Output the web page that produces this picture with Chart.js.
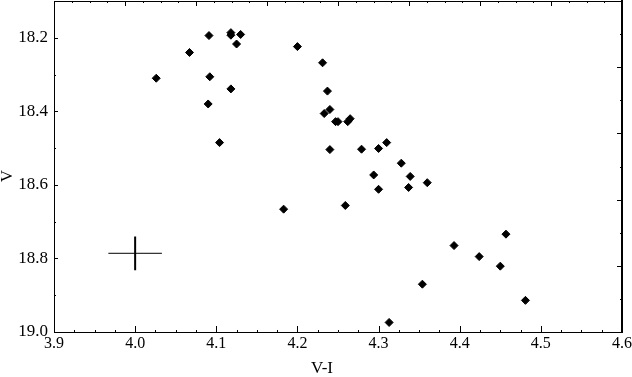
<!DOCTYPE html>
<html>
<head>
<meta charset="utf-8">
<script src="https://cdn.jsdelivr.net/npm/chart.js@4.4.0/dist/chart.umd.min.js"></script>
<style>
  html, body { margin: 0; padding: 0; background: #fff; }
  #wrap { width: 632px; height: 377px; }
</style>
</head>
<body>
<div id="wrap"><canvas id="cmd"></canvas></div>
<script>
// colour index V-I and magnitude V
const vi = [4.026, 4.067, 4.091, 4.092, 4.090, 4.104, 4.118, 4.118, 4.130, 4.125,
            4.118, 4.200, 4.183, 4.231, 4.237, 4.240, 4.233, 4.247, 4.250, 4.262,
            4.265, 4.240, 4.279, 4.300, 4.310, 4.328, 4.294, 4.339, 4.300, 4.337,
            4.360, 4.259, 4.313, 4.457, 4.393, 4.424, 4.450, 4.354, 4.481];
const vmag = [18.310, 18.240, 18.194, 18.306, 18.380, 18.485, 18.186, 18.193, 18.191, 18.217,
              18.339, 18.224, 18.666, 18.268, 18.345, 18.395, 18.406, 18.428, 18.428, 18.428,
              18.420, 18.504, 18.503, 18.501, 18.485, 18.541, 18.573, 18.577, 18.612, 18.607,
              18.594, 18.656, 18.974, 18.734, 18.765, 18.795, 18.821, 18.870, 18.914];

// typical error bar
const errX = 4.0, errY = 18.786;
const errDX = 0.033, errDY = 0.046;

const xTicks = [3.9, 4.0, 4.1, 4.2, 4.3, 4.4, 4.5, 4.6];
const yTicks = [18.2, 18.4, 18.6, 18.8, 19.0];

Chart.defaults.font.family = 'Liberation Serif';
Chart.defaults.color = '#000';

const pts = vi.map((x, i) => ({ x: x, y: vmag[i] }));

// inward tick marks on all four sides + axis titles
const frame = {
  id: 'frame',
  afterDraw(chart) {
    const ctx = chart.ctx, a = chart.chartArea, s = chart.scales;
    ctx.save();
    ctx.strokeStyle = '#000';
    ctx.lineWidth = 1;
    function line(x1, y1, x2, y2) {
      ctx.beginPath(); ctx.moveTo(x1, y1); ctx.lineTo(x2, y2); ctx.stroke();
    }
    let i, p;
    for (i = 0; i <= 28; i++) {
      p = Math.round(s.x.getPixelForValue(3.9 + i * 0.025)) + 0.5;
      line(p, a.bottom, p, a.bottom - (i % 4 == 0 ? 6 : 2));
    }
    for (i = 0; i <= 32; i++) {
      p = Math.round(s.x2.getPixelForValue(i * 0.25)) + 0.5;
      line(p, a.top, p, a.top + (i % 4 == 0 ? 5 : 2));
    }
    for (i = 0; i <= 9; i++) {
      p = Math.round(s.y.getPixelForValue(18.1 + i * 0.1)) + 0.5;
      line(a.left, p, a.left + (i % 2 == 1 ? 4 : 2), p);
    }
    for (i = 0; i <= 10; i++) {
      p = Math.round(s.y2.getPixelForValue(i * 0.5)) + 0.5;
      line(a.right, p, a.right - (i % 2 == 0 ? 5 : 2), p);
    }
    ctx.fillStyle = '#000';
    ctx.font = '17px "Liberation Serif"';
    ctx.textAlign = 'center';
    ctx.textBaseline = 'middle';
    ctx.fillText('V-I', 322, 369);
    ctx.translate(8, 176);
    ctx.rotate(-Math.PI / 2);
    ctx.fillText('V', 0, 0);
    ctx.restore();
  }
};

function noPad(s) {
  s.paddingTop = 0; s.paddingBottom = 0; s.paddingLeft = 0; s.paddingRight = 0;
}

new Chart(document.getElementById('cmd'), {
  type: 'scatter',
  data: {
    datasets: [
      {
        label: 'stars',
        data: pts,
        pointStyle: 'rectRot',
        pointRadius: 4,
        backgroundColor: '#000',
        borderColor: '#000',
        borderWidth: 1
      },
      {
        type: 'line',
        label: 'errx',
        data: [{ x: errX - errDX, y: errY }, { x: errX + errDX, y: errY }],
        borderColor: '#000',
        borderWidth: 1,
        pointRadius: 0,
        showLine: true
      },
      {
        type: 'line',
        label: 'erry',
        data: [{ x: errX, y: errY - errDY }, { x: errX, y: errY + errDY }],
        borderColor: '#000',
        borderWidth: 2,
        pointRadius: 0,
        showLine: true
      }
    ]
  },
  options: {
    responsive: true,
    maintainAspectRatio: false,
    animation: false,
    layout: { padding: 0, autoPadding: false },
    plugins: { legend: { display: false }, tooltip: { enabled: false } },
    scales: {
      x: {
        type: 'linear',
        position: 'bottom',
        min: 3.9,
        max: 4.6,
        afterBuildTicks: s => { s.ticks = xTicks.map(v => ({ value: v })); },
        afterFit: s => { s.height = 45; noPad(s); },
        ticks: {
          autoSkip: false,
          maxRotation: 0,
          padding: 2,
          font: { size: 16 },
          callback: v => v.toFixed(1)
        },
        grid: { display: false, drawTicks: false },
        border: { display: true, color: '#000', width: 1 }
      },
      x2: {
        type: 'linear',
        position: 'top',
        min: 0,
        max: 8,
        afterFit: s => { s.height = 1; noPad(s); },
        ticks: { display: false },
        grid: { display: false, drawTicks: false },
        border: { display: true, color: '#000', width: 1 }
      },
      y: {
        type: 'linear',
        position: 'left',
        reverse: true,
        min: 18.1,
        max: 19.0,
        afterBuildTicks: s => { s.ticks = yTicks.map(v => ({ value: v })); },
        afterFit: s => { s.width = 54; noPad(s); },
        ticks: {
          padding: 6,
          font: { size: 17 },
          callback: v => v.toFixed(1)
        },
        grid: { display: false, drawTicks: false },
        border: { display: true, color: '#000', width: 1 }
      },
      y2: {
        type: 'linear',
        position: 'right',
        min: 0,
        max: 5,
        afterFit: s => { s.width = 10; noPad(s); },
        ticks: { display: false },
        grid: { display: false, drawTicks: false },
        border: { display: true, color: '#000', width: 2 }
      }
    }
  },
  plugins: [frame]
});
</script>
</body>
</html>
